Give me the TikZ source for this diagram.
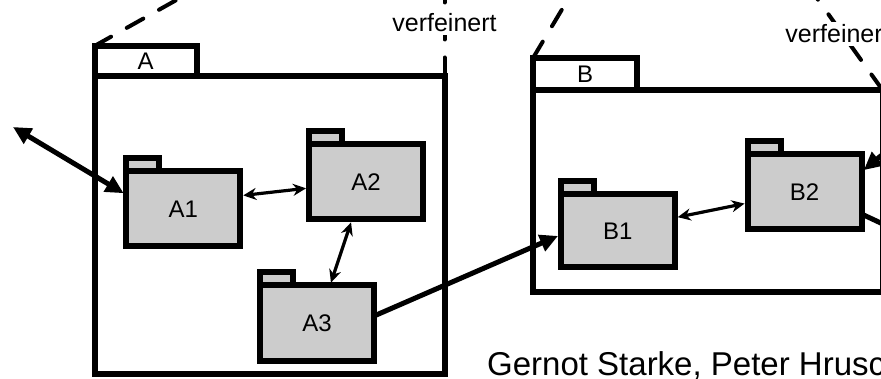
\documentclass[tikz,border=0pt]{standalone}
\usepackage{fontspec}
\setmainfont{Liberation Sans}
\usepackage{tikz}
\usetikzlibrary{calc}
\usetikzlibrary{arrows.meta}
\usepackage{xcolor}
\definecolor{grispaquete}{HTML}{CCCCCC}

\begin{document}
\begin{tikzpicture}[x=1pt,y=-1pt,
		paquete/.style={draw,line width=6pt,fill=white,inner sep=0pt,outer sep=0pt,font=\fontsize{24}{27}\selectfont},
		subpaquete/.style={paquete,fill=grispaquete,minimum width=114pt,minimum height=75pt},
		pestana/.style={paquete,fill=grispaquete,minimum width=33pt,minimum height=13pt,anchor=south west},
		refina/.style={line width=4pt,line cap=round,dash pattern=on 19pt off 18pt},
		etiqueta/.style={fill=white,inner sep=3pt,font=\fontsize{25}{28}\selectfont},
		gruesa/.style={line width=5pt},
		flechagruesa/.style={gruesa,{Triangle[length=18pt,width=17pt]}-{Triangle[length=18pt,width=17pt]},shorten >=3pt},
		flechafina/.style={line width=3.2pt,{Stealth[length=13pt,width=12pt]}-{Stealth[length=13pt,width=12pt]},shorten <=3pt,shorten >=3pt}]
			\path[use as bounding box,clip] (0,0) rectangle (881,379);
			%paquetes externos
			\node[paquete,minimum width=350pt,minimum height=297.5pt] (A) at (269.5,225.25) {};
			\node[paquete,minimum width=102.5pt,minimum height=30.5pt,anchor=south west] (Apestana) at (A.north west) {A};
			\node[paquete,minimum width=349.5pt,minimum height=202pt] (B) at (707.75,191) {};
			\node[paquete,minimum width=104pt,minimum height=32pt,anchor=south west] (Bpestana) at (B.north west) {B};
			%relaciones de refinamiento
			\coordinate (finAdiag) at (196,-11);
			\coordinate (finAvert) at (444.5,-40);
			\coordinate (finBdiag) at (570,-4);
			\coordinate (finBder) at (812,-8.7);
			\draw[refina] (Apestana.north west) -- (finAdiag);
			\draw[refina] (A.north east) -- node[etiqueta,pos=0.459] (verfA) {verfeinert} (finAvert);
			\draw[refina] (Bpestana.north west) -- (finBdiag);
			\draw[refina] (B.north east) -- node[etiqueta,pos=0.567,xshift=-5pt] (verfB) {verfeinert} (finBder);
			%paquetes internos
			\node[subpaquete] (A1) at (183.25,208.75) {A1};
			\node[pestana] (A1pestana) at (A1.north west) {};
			\node[subpaquete] (A2) at (366,182) {A2};
			\node[pestana] (A2pestana) at (A2.north west) {};
			\node[subpaquete] (A3) at (317,323) {A3};
			\node[pestana] (A3pestana) at (A3.north west) {};
			\node[subpaquete,minimum height=72.5pt] (B1) at (617.75,230.75) {B1};
			\node[pestana] (B1pestana) at (B1.north west) {};
			\node[subpaquete] (B2) at (804.5,192) {B2};
			\node[pestana] (B2pestana) at (B2.north west) {};
			%dependencias
			\coordinate (externo) at (13,127);
			\coordinate (entradaB2) at (900,140);
			\coordinate (salidaB2) at (900,232);
			\draw[flechagruesa] (externo) -- ([yshift=14pt]A1.west);
			\draw[flechafina] ([yshift=13pt]A1.east) -- ([yshift=-6pt]A2.west);
			\draw[flechafina] ([xshift=-14pt]A2.south) -- ([xshift=13pt]A3.north);
			\draw[gruesa,-{Triangle[length=18pt,width=17pt]},shorten >=3pt] ([yshift=7pt]A3.east) -- ([yshift=-4pt]B1.west);
			\draw[flechafina] ([yshift=13pt]B1.east) -- ([yshift=-11pt]B2.west);
			\draw[gruesa,-{Triangle[length=18pt,width=17pt]},shorten >=3pt] (entradaB2) -- ([yshift=20pt]B2.east);
			\draw[gruesa] ([yshift=-22pt]B2.east) -- (salidaB2);
			%autores
			\node[anchor=base west,inner sep=0pt,font=\fontsize{33}{38}\selectfont] (autores) at (487,375) {Gernot Starke, Peter Hruschka};
		\end{tikzpicture}
\end{document}
